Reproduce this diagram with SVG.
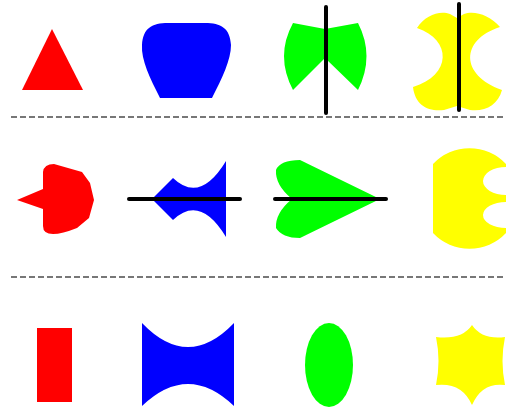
<svg xmlns="http://www.w3.org/2000/svg" width="506" height="411" viewBox="0 0 506 411">
<style>
.red{fill:#ff0000}
.blue{fill:#0000ff}
.green{fill:#00ff00}
.yellow{fill:#ffff00}
.sep{stroke:#777;stroke-width:2;stroke-dasharray:6,3;fill:none}
.axis{stroke:#000;stroke-width:4;stroke-linecap:round;fill:none}
</style>
<rect width="506" height="411" fill="#fff"/>
<g id="separators">
<line class="sep" x1="11" y1="117" x2="506" y2="117"/>
<line class="sep" x1="11" y1="277" x2="506" y2="277"/>
</g>
<g id="triangle"><polygon class="red" points="52,29 22,90 83,90"/></g>
<g id="bucket"><path class="blue" d="M160,98 C150,78 141,60 142,45 C143,28 152,23 168,23 L205,23 C221,23 230,28 231,45 C231,60 222,78 212,98 Z"/></g>
<g id="butterfly"><path class="green" d="M293,23 L325,29 L358,23 Q375,56 358,90 L325,58 L293,90 Q275,56 293,23 Z"/></g>
<g id="xshape"><path class="yellow" d="M417,28 C425,15 440,10 450,14 L457,18 L464,14 C474,10 490,15 500,27 C460,40 460,75 502,90 C498,105 485,112 470,110 L457,106 L444,110 C428,112 415,105 413,87 C452,75 452,40 417,28 Z"/></g>
<g id="redblob"><path class="red" d="M17,200 L43,189 L43,172 Q44,164 54,164 L82,172 L90,183 L94,200 L89,218 L77,228 Q62,234 53,234 Q43,234 43,226 L43,209 Z"/></g>
<g id="fish"><path class="blue" d="M152,199 L173,178 Q200,204 226,161 L226,237 Q200,194 173,220 Z"/></g>
<g id="arrowhead"><path class="green" d="M380,199 L300,160 Q280,160 276,170 Q275,185 292,199 Q275,213 276,228 Q282,238 300,238 Z"/></g>
<g id="pacman"><path class="yellow" d="M433,164 A50,50 0 0 1 506,164 L506,167 A23,14 0 0 0 506,195 L506,202 A23,13 0 0 0 506,228 L506,233 A50,50 0 0 1 433,233 Z"/></g>
<g id="rect"><rect class="red" x="37" y="328" width="35" height="74"/></g>
<g id="bowtie"><path class="blue" d="M142,323 Q188,371 234,323 L234,406 Q188,362 142,406 Z"/></g>
<g id="ellipse"><ellipse class="green" cx="329" cy="365" rx="24" ry="42"/></g>
<g id="star"><path class="yellow" d="M472,325 Q482,340 505,337 Q500,361 505,385 Q482,382 472,405 Q462,382 436,385 Q441,361 436,337 Q462,340 472,325 Z"/></g>
<g id="connectors">
<line class="axis" x1="326" y1="7" x2="326" y2="113"/>
<line class="axis" x1="459" y1="4" x2="459" y2="110"/>
<line class="axis" x1="129" y1="199" x2="240" y2="199"/>
<line class="axis" x1="275" y1="199" x2="386" y2="199"/>
</g>
</svg>
